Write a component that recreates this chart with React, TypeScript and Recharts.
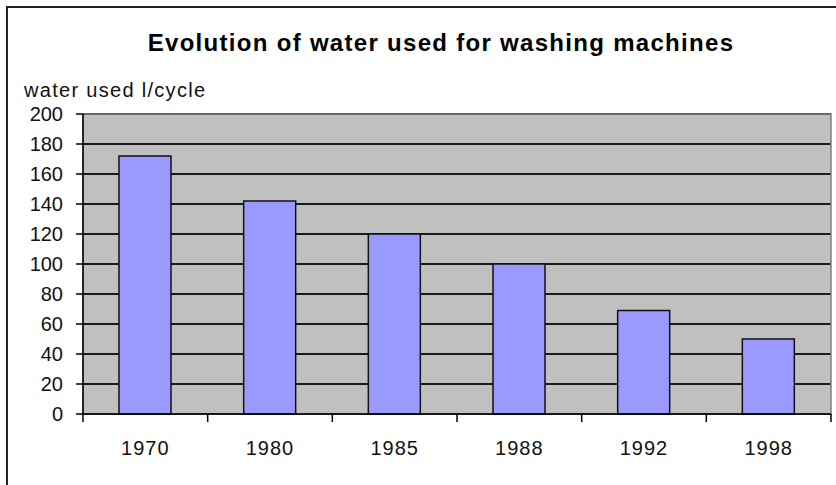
import React from 'react';
import { BarChart, Bar, XAxis, YAxis, CartesianGrid, ReferenceArea } from 'recharts';

const years = ['1970', '1980', '1985', '1988', '1992', '1998'];
const litresPerCycle = [172, 142, 120, 100, 69, 50];
const yTicks = [0, 20, 40, 60, 80, 100, 120, 140, 160, 180, 200];

const data = years.map((year, i) => ({ year, litres: litresPerCycle[i] }));

const W = 836;
const H = 485;
const LEFT = 83;
const RIGHT = 5;
const TOP = 114;
const BOTTOM = 71;
const BAND = (W - LEFT - RIGHT) / years.length;
const FONT = '"Liberation Sans", Arial, sans-serif';

const YearTick = (props: any) => {
  const { x, y, payload, index } = props;
  return (
    <g>
      {index === 0 && (
        <line x1={x - BAND / 2} x2={x - BAND / 2} y1={y} y2={y + 8} stroke="#000" strokeWidth={1.5} />
      )}
      <line x1={x + BAND / 2} x2={x + BAND / 2} y1={y} y2={y + 8} stroke="#000" strokeWidth={1.5} />
      <text
        x={x}
        y={y + 34}
        textAnchor="middle"
        dominantBaseline="central"
        fontSize={20}
        letterSpacing={1}
        fontFamily={FONT}
        fill="#111"
      >
        {payload.value}
      </text>
    </g>
  );
};

export default function App() {
  return (
    <div style={{ position: 'absolute', left: 0, top: 0, width: W, height: H, background: '#fff', overflow: 'hidden' }}>
      <div
        style={{
          position: 'absolute',
          left: 6,
          top: 6,
          width: 900,
          height: 600,
          border: '2px solid #222',
        }}
      />
      <div
        style={{
          position: 'absolute',
          left: 0,
          top: 29,
          width: 882,
          textAlign: 'center',
          fontFamily: FONT,
          fontWeight: 'bold',
          fontSize: 24,
          letterSpacing: 1.3,
          color: '#000',
          lineHeight: '28px',
          whiteSpace: 'nowrap',
        }}
      >
        Evolution of water used for washing machines
      </div>
      <div
        style={{
          position: 'absolute',
          left: 24,
          top: 78,
          fontFamily: FONT,
          fontSize: 20,
          letterSpacing: 1.3,
          color: '#111',
          lineHeight: '24px',
          whiteSpace: 'nowrap',
        }}
      >
        water used l/cycle
      </div>
      <div style={{ position: 'absolute', left: 0, top: 0 }}>
        <BarChart width={W} height={H} data={data} margin={{ top: TOP, right: RIGHT, bottom: 0, left: 0 }}>
          <CartesianGrid
            horizontal
            vertical={false}
            fill="#c0c0c0"
            fillOpacity={1}
            stroke="#1a1a1a"
            strokeWidth={2}
          />
          <ReferenceArea y1={0} y2={200} fill="none" stroke="#808080" strokeWidth={1.5} />
          <XAxis
            dataKey="year"
            height={BOTTOM}
            tickSize={0}
            tickMargin={0}
            axisLine={{ stroke: '#000', strokeWidth: 1.5 }}
            tickLine={false}
            tick={<YearTick />}
            interval={0}
          />
          <YAxis
            width={LEFT}
            domain={[0, 200]}
            ticks={yTicks}
            interval={0}
            tickSize={7}
            tickMargin={13}
            axisLine={{ stroke: '#000', strokeWidth: 1.5 }}
            tickLine={{ stroke: '#000', strokeWidth: 1.5 }}
            tick={{ fontSize: 20, fontFamily: FONT, fill: '#111' }}
          />
          <Bar
            dataKey="litres"
            barSize={52}
            fill="#9999ff"
            stroke="#111"
            strokeWidth={1.5}
            isAnimationActive={false}
          />
        </BarChart>
      </div>
    </div>
  );
}
